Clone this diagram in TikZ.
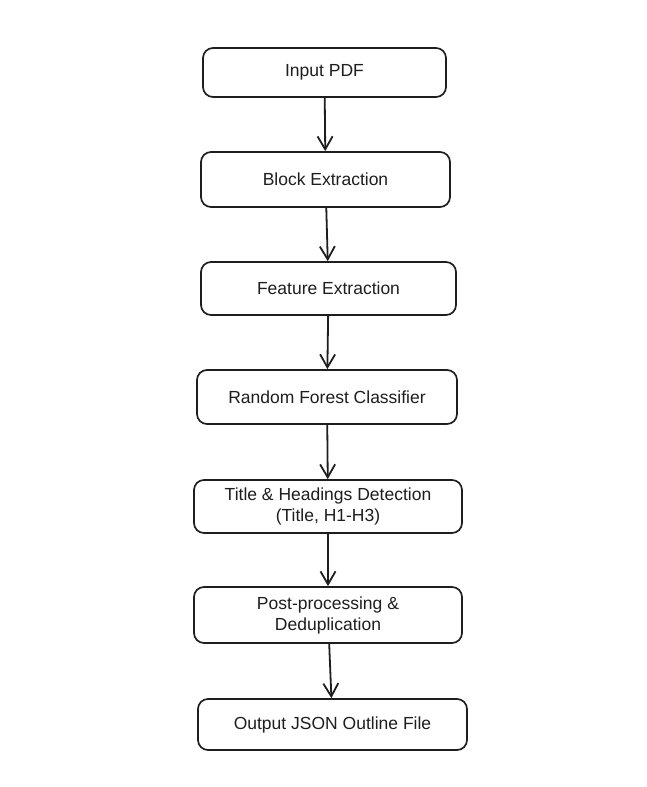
\documentclass[tikz,border=0pt]{standalone}
\usepackage{fontspec}
\setmainfont{Liberation Sans}
\usetikzlibrary{arrows.meta}
\definecolor{ink}{HTML}{1E1E1E}
\tikzset{
  x=1pt,y=-1pt,
  box/.style={draw=ink, line width=1.7pt, rounded corners=10pt, fill=white,
    inner sep=0pt, align=center, font=\fontsize{17.5}{21}\selectfont, text=ink},
  flow/.style={draw=ink, line width=1.8pt,
    -{Straight Barb[length=13pt,width=15pt,line width=1.8pt]}}
}
\begin{document}
\begin{tikzpicture}
\useasboundingbox (0,0) rectangle (646,787);
\node[box, minimum width=243pt, minimum height=49pt] (n1) at (324.5,72.5) {Input PDF};
\node[box, minimum width=249pt, minimum height=55pt] (n2) at (325.5,179.5) {Block Extraction};
\node[box, minimum width=255pt, minimum height=53pt] (n3) at (328.5,288.5) {Feature Extraction};
\node[box, minimum width=260pt, minimum height=54pt] (n4) at (327,397) {Random Forest Classifier};
\node[box, minimum width=268pt, minimum height=53pt] (n5) at (328,506.5) {Title \& Headings Detection\\(Title, H1-H3)};
\node[box, minimum width=268pt, minimum height=56pt] (n6) at (328,615) {Post-processing \&\\Deduplication};
\node[box, minimum width=269pt, minimum height=51pt] (n7) at (332.5,724.5) {Output JSON Outline File};
\draw[flow] (n1) -- (n2);
\draw[flow] (n2) -- (n3);
\draw[flow] (n3) -- (n4);
\draw[flow] (n4) -- (n5);
\draw[flow] (n5) -- (n6);
\draw[flow] (n6) -- (n7);
\end{tikzpicture}
\end{document}
